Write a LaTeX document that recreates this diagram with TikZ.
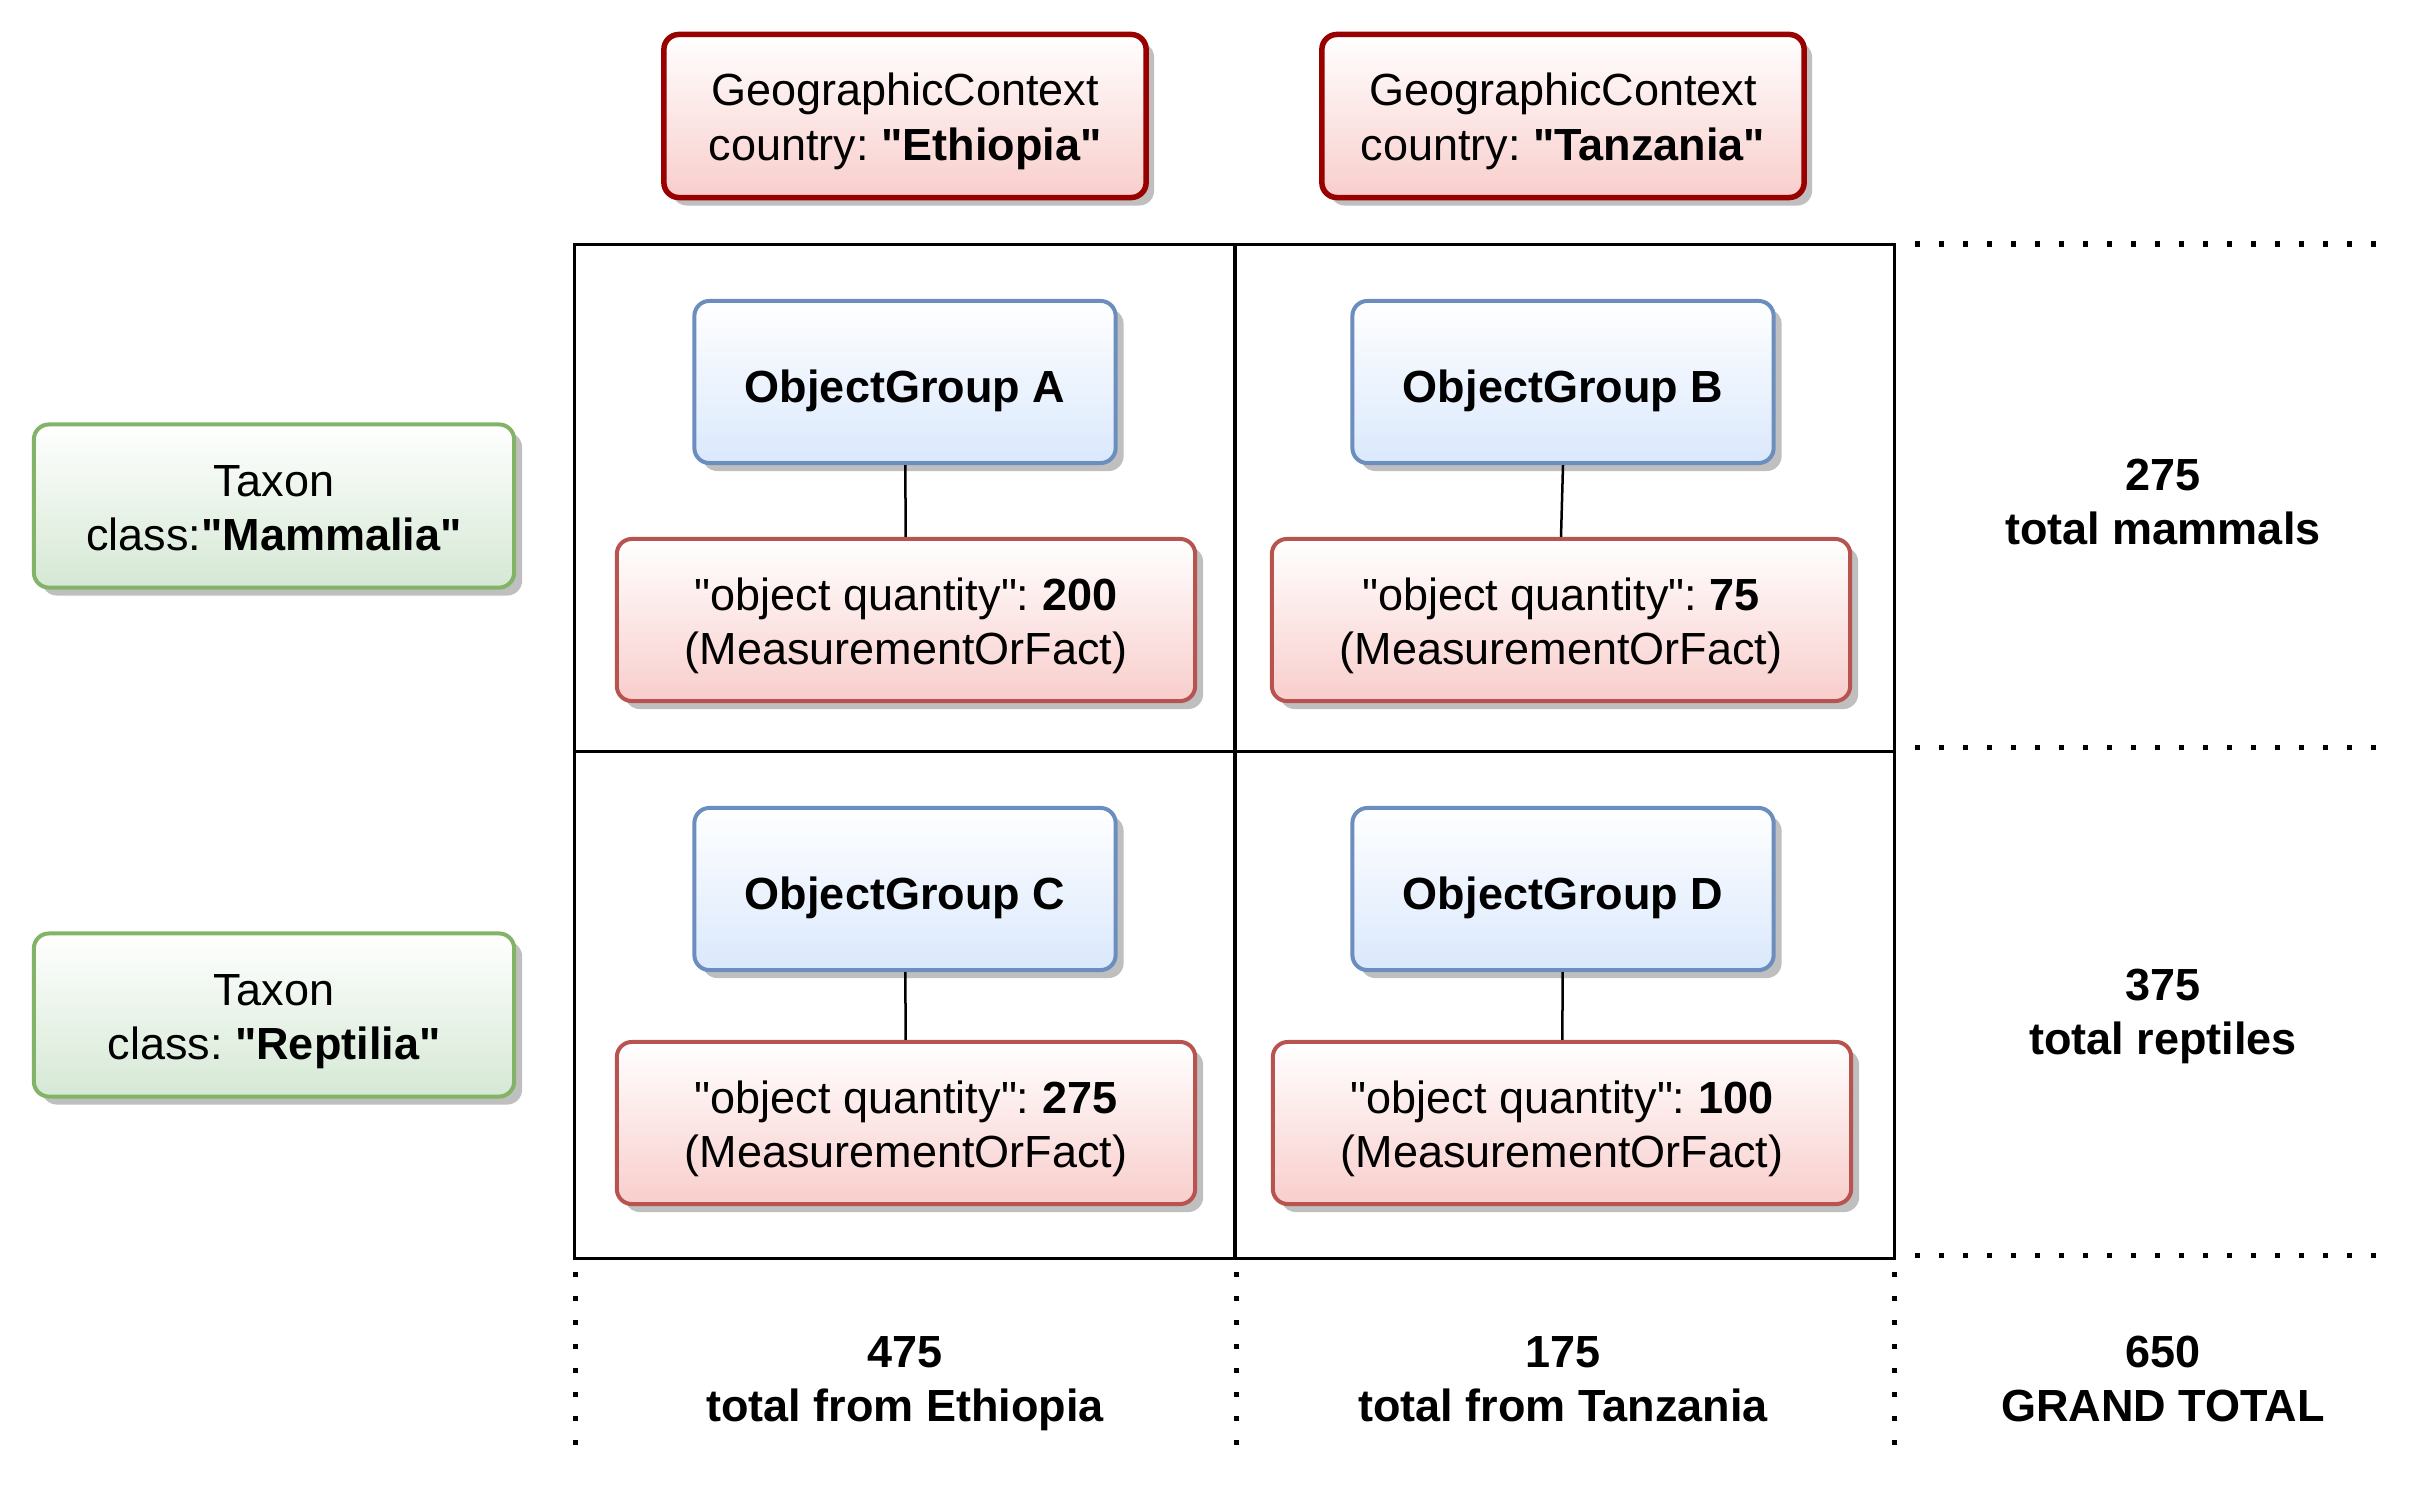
\documentclass[tikz,border=0pt]{standalone}
\usepackage{fontspec}
\setmainfont{Liberation Sans}[Ligatures=TeXOff]
\frenchspacing
\usetikzlibrary{positioning,shadows}

\definecolor{geoline}{HTML}{990000}
\definecolor{redfill}{HTML}{F8CECC}
\definecolor{mofline}{HTML}{B85450}
\definecolor{ogline}{HTML}{6C8EBF}
\definecolor{ogfill}{HTML}{DAE8FC}
\definecolor{taxline}{HTML}{82B366}
\definecolor{taxfill}{HTML}{D5E8D4}

\begin{document}
\begin{tikzpicture}[
    x=0.01cm, y=-0.01cm,
    % strut top and bottom so the lines sit like the drawing's
    twolines/.style={
        execute at begin node={\rule{0pt}{27.8pt}},
        execute at end node={\rule[-0.21em]{0pt}{0pt}}
    },
    oneline/.style={
        execute at begin node={\rule{0pt}{1.13em}},
        execute at end node={\rule[-0.21em]{0pt}{0pt}}
    },
    box/.style={
        rectangle, rounded corners=0.15cm, line width=0.04cm,
        align=center, inner sep=0pt, top color=white,
        font=\fontsize{12.8}{15.4}\selectfont,
        drop shadow={shadow xshift=0.08cm, shadow yshift=-0.08cm,
                     fill=black!25, opacity=1}
    },
    % Context boxes: dark red, thicker border
    geobox/.style={
        box, twolines, draw=geoline, line width=0.055cm, bottom color=redfill,
        minimum width=4.82cm, minimum height=1.63cm
    },
    ogbox/.style={
        box, oneline, draw=ogline, bottom color=ogfill,
        font=\fontsize{12.8}{15.4}\selectfont\bfseries,
        minimum width=4.21cm, minimum height=1.62cm
    },
    mofbox/.style={
        box, twolines, draw=mofline, bottom color=redfill,
        minimum width=5.78cm, minimum height=1.62cm
    },
    taxbox/.style={
        box, twolines, draw=taxline, bottom color=taxfill,
        minimum width=4.80cm, minimum height=1.63cm
    },
    cell/.style={
        rectangle, draw=black, line width=0.03cm,
        minimum width=6.6cm, minimum height=5.07cm
    },
    total/.style={
        twolines, font=\fontsize{12.8}{15.4}\selectfont\bfseries, align=center
    },
    link/.style={line width=0.025cm, black},
    dotline/.style={line width=0.05cm, dash pattern=on 0.05cm off 0.19cm}
]
\useasboundingbox (0,0) rectangle (2436,1488);

% === Grid cells ===
\node[cell] (cellA) at (905,498)    {};
\node[cell] (cellB) at (1564.5,498) {};
\node[cell] (cellC) at (905,1005)   {};
\node[cell] (cellD) at (1564.5,1005) {};

% === Column headers ===
\node[geobox] (geoEth) at (905,116)  {GeographicContext\\country: \textbf{"Ethiopia"}};
\node[geobox] (geoTan) at (1563,116) {GeographicContext\\country: \textbf{"Tanzania"}};

% === Row headers ===
\node[taxbox] (taxMam) at (274,506)  {Taxon\\class:\textbf{"Mammalia"}};
\node[taxbox] (taxRep) at (274,1015) {Taxon\\class: \textbf{"Reptilia"}};

% === Object groups and quantities ===
\node[ogbox]  (ogA)  at (905,382)   {ObjectGroup A};
\node[mofbox] (mofA) at (906,620)   {"object quantity": \textbf{200}\\(MeasurementOrFact)};
\node[ogbox]  (ogB)  at (1563,382)  {ObjectGroup B};
\node[mofbox] (mofB) at (1561,620)  {"object quantity": \textbf{75}\\(MeasurementOrFact)};
\node[ogbox]  (ogC)  at (905,889)   {ObjectGroup C};
\node[mofbox] (mofC) at (906,1123)  {"object quantity": \textbf{275}\\(MeasurementOrFact)};
\node[ogbox]  (ogD)  at (1563,889)  {ObjectGroup D};
\node[mofbox] (mofD) at (1562,1123) {"object quantity": \textbf{100}\\(MeasurementOrFact)};

\draw[link] (ogA) -- (mofA);
\draw[link] (ogB.south) -- (mofB.north);
\draw[link] (ogC) -- (mofC);
\draw[link] (ogD) -- (mofD);

% === Totals ===
\node[total] (totMam) at (2163,500)  {275\\total mammals};
\node[total] (totRep) at (2163,1010) {375\\total reptiles};
\node[total] (totEth) at (905,1377)  {475\\total from Ethiopia};
\node[total] (totTan) at (1563,1377) {175\\total from Tanzania};
\node[total] (totAll) at (2163,1377) {650\\GRAND TOTAL};

% === Dotted guides ===
\coordinate (hTopL) at (1915,244);  \coordinate (hTopR) at (2378,244);
\coordinate (hMidL) at (1915,747);  \coordinate (hMidR) at (2378,747);
\coordinate (hBotL) at (1915,1255); \coordinate (hBotR) at (2378,1255);
\draw[dotline] (hTopL) -- (hTopR);
\draw[dotline] (hMidL) -- (hMidR);
\draw[dotline] (hBotL) -- (hBotR);

\coordinate (vEthT) at (575,1272);  \coordinate (vEthB) at (575,1446);
\coordinate (vTanT) at (1236,1272); \coordinate (vTanB) at (1236,1446);
\coordinate (vAllT) at (1894,1272); \coordinate (vAllB) at (1894,1446);
\draw[dotline] (vEthT) -- (vEthB);
\draw[dotline] (vTanT) -- (vTanB);
\draw[dotline] (vAllT) -- (vAllB);

\end{tikzpicture}
\end{document}
